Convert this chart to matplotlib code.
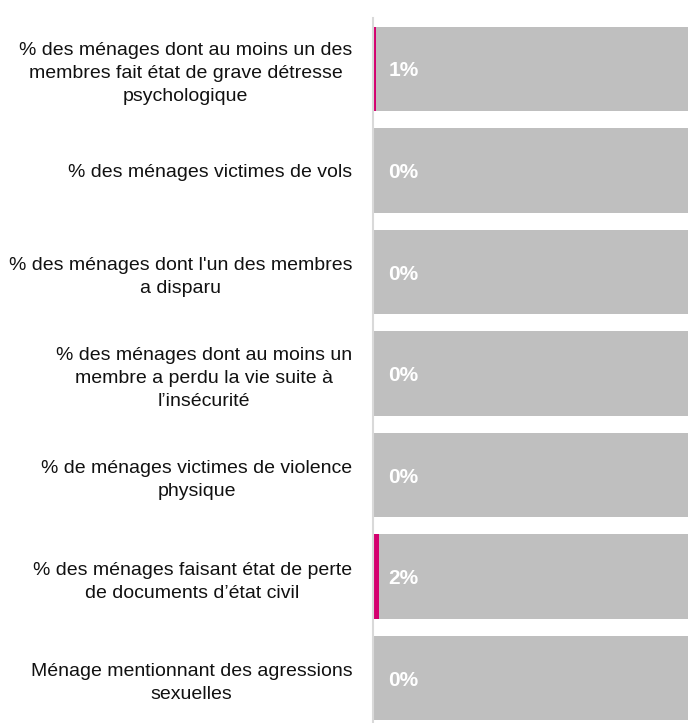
import matplotlib
matplotlib.use("Agg")
import matplotlib.pyplot as plt

categories = [
    "% des ménages dont au moins un des\nmembres fait état de grave détresse\npsychologique",
    "% des ménages victimes de vols",
    "% des ménages dont l'un des membres\na disparu",
    "% des ménages dont au moins un\nmembre a perdu la vie suite à\nl’insécurité",
    "% de ménages victimes de violence\nphysique",
    "% des ménages faisant état de perte\nde documents d’état civil",
    "Ménage mentionnant des agressions\nsexuelles",
]
values = [1, 0, 0, 0, 0, 2, 0]
value_labels = ["1%", "0%", "0%", "0%", "0%", "2%", "0%"]
full_scale = [100] * len(categories)

GREY = "#BFBFBF"
MAGENTA = "#D4006F"
AXIS = "#D9D9D9"

plt.rcParams["font.family"] = ["Liberation Sans", "DejaVu Sans"]

fig = plt.figure(figsize=(6.88, 7.23), dpi=100)
ax = fig.add_axes([373 / 688, 1 - 729 / 723, 1 - 373 / 688, 711 / 723])

y = list(range(len(categories)))
ax.barh(y, full_scale, height=0.83, color=GREY, zorder=1)
ax.barh(y, values, height=0.83, color=MAGENTA, zorder=2)

for yi, lab in zip(y, value_labels):
    ax.annotate(lab, xy=(0, yi), xytext=(11, -1.5), textcoords="offset points",
                ha="left", va="center", color="white", fontweight="bold",
                fontsize=15)

ax.set_xlim(0, 100)
ax.set_ylim(len(categories) - 0.5, -0.5)
ax.set_yticks(y)
ax.set_yticklabels(categories, fontsize=14, color="#111111", ha="right",
                   multialignment="center", linespacing=1.46)
ax.tick_params(axis="y", length=0, pad=15)
ax.set_xticks([])
for side in ("top", "right", "bottom"):
    ax.spines[side].set_visible(False)
ax.spines["left"].set_color(AXIS)
ax.spines["left"].set_linewidth(1.5)

fig.savefig("out.png", dpi=100)
